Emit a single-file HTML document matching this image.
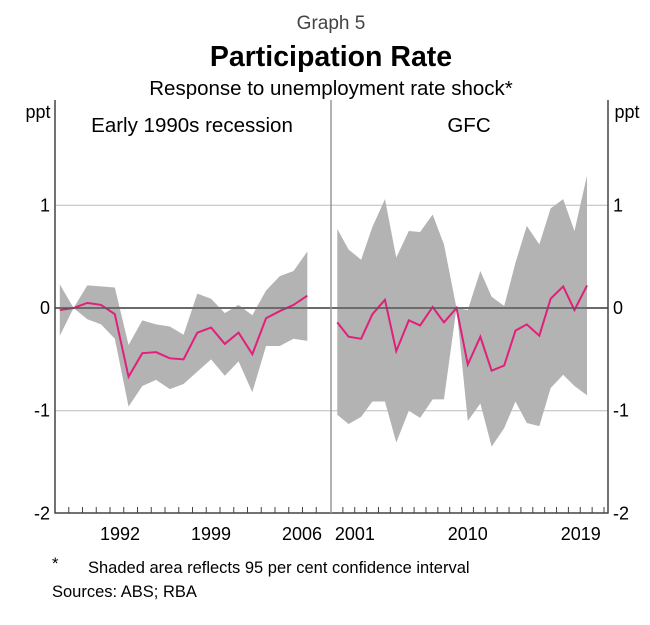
<!DOCTYPE html>
<html><head><meta charset="utf-8"><style>
body{margin:0;background:#fff;font-family:"Liberation Sans",Arial,sans-serif}
</style></head><body>
<svg id="chart" width="650" height="620" xmlns="http://www.w3.org/2000/svg" font-family="Liberation Sans, Arial, sans-serif">
<text x="331" y="29" text-anchor="middle" font-size="19" fill="#444">Graph 5</text>
<text x="331" y="66" text-anchor="middle" font-size="28.5" font-weight="bold">Participation Rate</text>
<text x="331" y="95" text-anchor="middle" font-size="20.5">Response to unemployment rate shock*</text>
<g id="grid"></g>
<g id="marks"></g>
<g id="axes"></g>
<text x="192" y="132" text-anchor="middle" font-size="20.5">Early 1990s recession</text>
<text x="469" y="132" text-anchor="middle" font-size="20.5">GFC</text>
<text x="38" y="118" text-anchor="middle" font-size="18">ppt</text>
<text x="627" y="118" text-anchor="middle" font-size="18">ppt</text>
<text x="52" y="569" font-size="16.5">*</text>
<text x="88" y="573" font-size="16.5">Shaded area reflects 95 per cent confidence interval</text>
<text x="52" y="597" font-size="16.5">Sources: ABS; RBA</text>
</svg>
<script>
const leftYears=[1988,1989,1990,1991,1992,1993,1994,1995,1996,1997,1998,1999,2000,2001,2002,2003,2004,2005,2006];
const leftCentral=[-0.02,0,0.05,0.03,-0.06,-0.67,-0.44,-0.43,-0.49,-0.50,-0.24,-0.19,-0.35,-0.24,-0.45,-0.10,-0.03,0.03,0.12];
const leftUpper=[0.23,0,0.22,0.21,0.20,-0.36,-0.12,-0.16,-0.18,-0.26,0.14,0.09,-0.05,0.03,-0.07,0.17,0.31,0.36,0.55];
const leftLower=[-0.27,0,-0.11,-0.16,-0.30,-0.96,-0.76,-0.70,-0.79,-0.74,-0.62,-0.50,-0.66,-0.52,-0.82,-0.37,-0.37,-0.30,-0.32];
const rightYears=[1999.6,2000.5,2001.5,2002.4,2003.4,2004.3,2005.3,2006.2,2007.2,2008.1,2009.1,2010.0,2011.0,2011.9,2012.9,2013.8,2014.7,2015.7,2016.6,2017.6,2018.5,2019.5];
const rightCentral=[-0.14,-0.28,-0.30,-0.06,0.08,-0.42,-0.12,-0.17,0.01,-0.14,0,-0.55,-0.28,-0.61,-0.56,-0.22,-0.16,-0.27,0.09,0.21,-0.02,0.22];
const rightUpper=[0.77,0.57,0.47,0.79,1.06,0.49,0.75,0.74,0.91,0.62,0,-0.02,0.36,0.11,0.02,0.44,0.80,0.62,0.97,1.06,0.75,1.29];
const rightLower=[-1.04,-1.13,-1.06,-0.91,-0.91,-1.31,-1.00,-1.07,-0.89,-0.89,0,-1.10,-0.93,-1.35,-1.17,-0.91,-1.12,-1.15,-0.78,-0.65,-0.76,-0.85];
const yTicks=[1,0,-1,-2];
const leftTickLabels=[1992,1999,2006];
const rightTickLabels=[2001,2010,2019];

const NS="http://www.w3.org/2000/svg";
const X0=55,XM=331,X1=608,YT=100,YB=513;
const y=v=>308-v*102.7;
const xl=yr=>55+(yr-1988+0.35)*13.75;
const xlLabel=yr=>211+(yr-1999)*13;
const xr=yr=>331+(yr-1999.1)*12.55;
function mk(tag,attrs,parent){const e=document.createElementNS(NS,tag);for(const k in attrs)e.setAttribute(k,attrs[k]);document.getElementById(parent).appendChild(e);return e;}

yTicks.forEach(v=>{if(v===-2)return;
 const g=mk('line',{x1:X0,x2:X1,y1:y(v),y2:y(v),stroke:v===0?'#555':'#bbb','stroke-width':v===0?1.5:1},'grid');
 
 
});

function panel(xs,xf,c,u,l,name){
 let pts=xs.map((d,i)=>xf(d)+','+y(u[i])).concat(xs.map((d,i)=>xf(d)+','+y(l[i])).reverse());
 const band=mk('polygon',{points:pts.join(' '),fill:'#b3b3b3'},'marks');
 
 
 const ln=mk('polyline',{points:xs.map((d,i)=>xf(d)+','+y(c[i])).join(' '),fill:'none',stroke:'#e0207a','stroke-width':2},'marks');
 
 
}
panel(leftYears,xl,leftCentral,leftUpper,leftLower,'early-1990s');
panel(rightYears,xr,rightCentral,rightUpper,rightLower,'gfc');

const z=mk('line',{x1:X0,x2:X1,y1:y(0),y2:y(0),stroke:'#555','stroke-width':1.5},'axes');



const fr=mk('path',{d:`M${X0},${YT}V${YB}H${X1}V${YT}`,fill:'none',stroke:'#444','stroke-width':1.5},'axes');


const dv=mk('line',{x1:XM,x2:XM,y1:YT,y2:YB,stroke:'#999','stroke-width':1.5},'axes');



for(let x=X0+13.75;x<XM-2;x+=13.75){const t=mk('line',{x1:x,x2:x,y1:YB,y2:YB-6,stroke:'#444'},'axes');
 
 }
for(let x=XM+11.87;x<X1-2;x+=11.87){const t=mk('line',{x1:x,x2:x,y1:YB,y2:YB-6,stroke:'#444'},'axes');
 
 }

yTicks.forEach(v=>{
 const a=mk('text',{x:50,y:y(v)+6,'text-anchor':'end','font-size':18},'axes');a.textContent=v;
 
 
 const b=mk('text',{x:613,y:y(v)+6,'text-anchor':'start','font-size':18},'axes');b.textContent=v;
 
 
});
leftTickLabels.forEach(d=>{const t=mk('text',{x:xlLabel(d),y:540,'text-anchor':'middle','font-size':18},'axes');t.textContent=d;
 
 });
rightTickLabels.forEach(d=>{const t=mk('text',{x:xr(d),y:540,'text-anchor':'middle','font-size':18},'axes');t.textContent=d;
 
 });
</script>
</body></html>
